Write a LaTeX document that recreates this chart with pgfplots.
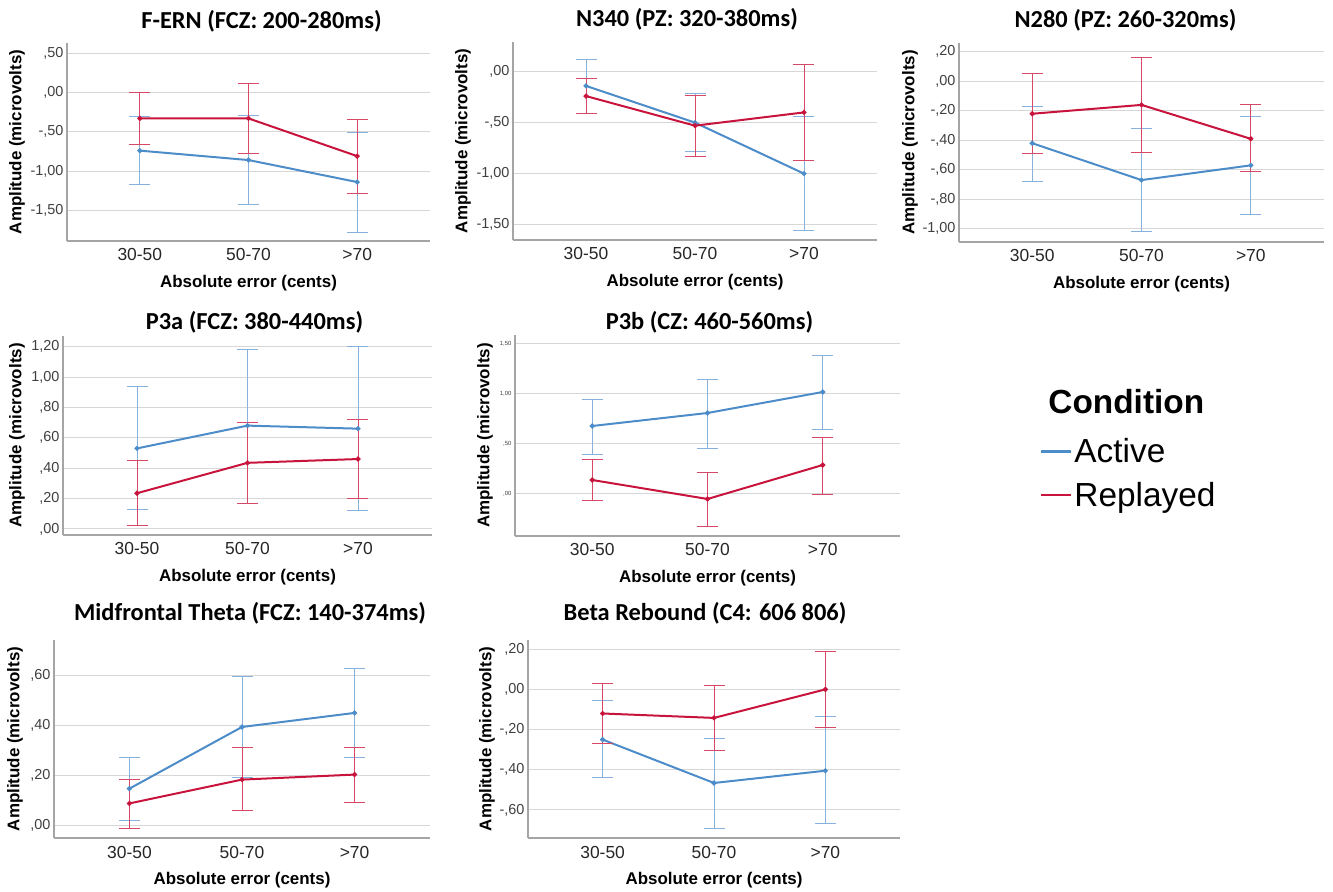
\documentclass[border=0pt]{standalone}
\usepackage{pgfplots}
\pgfplotsset{compat=1.18}
\usepackage{fontspec}
\setmainfont{Liberation Sans}
\newfontfamily\calibri{Carlito}
\definecolor{activeC}{RGB}{76,140,201}
\definecolor{replC}{RGB}{200,20,60}
\definecolor{activeE}{RGB}{135,178,222}
\definecolor{replE}{RGB}{214,72,102}
\definecolor{gridC}{RGB}{215,215,215}
\definecolor{axisC}{RGB}{165,165,165}
\pgfplotsset{
 panel/.style={
  scale only axis,
  enlargelimits=false,
  xmin=-0.67, xmax=2.67,
  xtick={0,1,2}, xticklabels={30-50,50-70,>70},
  axis x line*=bottom, axis y line*=left,
  axis line style={-, draw=axisC, line width=1.1bp},
  major tick length=0pt,
  ymajorgrids, major grid style={draw=gridC, line width=1bp},
  xticklabel style={anchor=center, yshift=-14bp, font=\fontsize{17.5}{19}\selectfont, text=black!85},
  yticklabel style={anchor=east, font=\fontsize{14.5}{16}\selectfont, text=black!75},
  xlabel={Absolute error (cents)},
  ylabel={Amplitude (microvolts)},
  every axis x label/.style={at={([yshift=-42bp]rel axis cs:0.5,0)}, anchor=center, font=\fontsize{17}{19}\selectfont\bfseries},
  clip=false,
 },
 ylabsh/.style={every axis y label/.style={at={([xshift=-#1]rel axis cs:0,0.5)}, rotate=90, anchor=center, font=\fontsize{17}{19}\selectfont\bfseries}},
 titsh/.style 2 args={every axis title/.style={at={([xshift=#1,yshift=#2]rel axis cs:0.5,1)}, anchor=center, font=\calibri\bfseries\fontsize{24.5}{28}\selectfont}},
 act/.style={forget plot, activeC, line width=2bp, mark=*, mark size=1.4bp, mark options={fill=activeC},
   error bars/.cd, y dir=both, y explicit, error mark=|, error bar style={draw=activeE, line width=0.9bp},
   error mark options={draw=activeE, fill=activeE, mark size=10.5bp, line width=0.9bp}},
 rep/.style={forget plot, replC, line width=2bp, mark=*, mark size=1.4bp, mark options={fill=replC},
   error bars/.cd, y dir=both, y explicit, error mark=|, error bar style={draw=replE, line width=0.9bp},
   error mark options={draw=replE, fill=replE, mark size=10.5bp, line width=0.9bp}},
}
\begin{document}
\begin{tikzpicture}
\useasboundingbox (0bp,0bp) rectangle (1333bp,892bp);
% ---------- F-ERN
\begin{axis}[panel, at={(67bp,849bp)}, anchor=north west, width=363bp, height=198bp,
  ymin=-1.89, ymax=0.63, ytick={-1.5,-1,-0.5,0,0.5}, yticklabels={{-1,50},{-1,00},{-,50},{,00},{,50}},
  ylabsh=50bp, titsh={13bp}{22bp}, title={F-ERN (FCZ: 200-280ms)}]
\addplot[act] table[x=x,y=y,y error plus=ep,y error minus=em]{
x y ep em
0 -0.74 0.44 0.43
1 -0.86 0.57 0.57
2 -1.14 0.63 0.64
};
\addplot[rep] table[x=x,y=y,y error plus=ep,y error minus=em]{
x y ep em
0 -0.33 0.33 0.33
1 -0.33 0.44 0.45
2 -0.81 0.47 0.47
};
\end{axis}
% ---------- N340
\begin{axis}[panel, at={(513bp,850bp)}, anchor=north west, width=364bp, height=198bp,
  ymin=-1.65, ymax=0.29, ytick={-1.5,-1,-0.5,0}, yticklabels={{-1,50},{-1,00},{-,50},{,00}},
  ylabsh=50bp, titsh={-8bp}{23bp}, title={N340 (PZ: 320-380ms)}]
\addplot[act] table[x=x,y=y,y error plus=ep,y error minus=em]{
x y ep em
0 -0.14 0.26 0.27
1 -0.50 0.29 0.28
2 -1.00 0.56 0.56
};
\addplot[rep] table[x=x,y=y,y error plus=ep,y error minus=em]{
x y ep em
0 -0.24 0.17 0.17
1 -0.53 0.30 0.30
2 -0.40 0.47 0.47
};
\end{axis}
% ---------- N280
\begin{axis}[panel, at={(959bp,849bp)}, anchor=north west, width=365bp, height=199bp,
  ymin=-1.09, ymax=0.26, ytick={-1,-0.8,-0.6,-0.4,-0.2,0,0.2}, yticklabels={{-1,00},{-,80},{-,60},{-,40},{-,20},{,00},{,20}},
  ylabsh=49bp, titsh={-16bp}{23bp}, title={N280 (PZ: 260-320ms)}]
\addplot[act] table[x=x,y=y,y error plus=ep,y error minus=em]{
x y ep em
0 -0.42 0.25 0.26
1 -0.67 0.35 0.35
2 -0.57 0.33 0.33
};
\addplot[rep] table[x=x,y=y,y error plus=ep,y error minus=em]{
x y ep em
0 -0.22 0.27 0.27
1 -0.16 0.32 0.32
2 -0.39 0.23 0.22
};
\end{axis}
% ---------- P3a
\begin{axis}[panel, at={(63bp,556bp)}, anchor=north west, width=369bp, height=199bp,
  ymin=-0.04, ymax=1.27, ytick={0,0.2,0.4,0.6,0.8,1,1.2}, yticklabels={{,00},{,20},{,40},{,60},{,80},{1,00},{1,20}},
  ylabsh=46bp, titsh={7bp}{14bp}, title={P3a (FCZ: 380-440ms)}]
\addplot[act] table[x=x,y=y,y error plus=ep,y error minus=em]{
x y ep em
0 0.53 0.41 0.405
1 0.68 0.50 0.51
2 0.66 0.54 0.54
};
\addplot[rep] table[x=x,y=y,y error plus=ep,y error minus=em]{
x y ep em
0 0.235 0.215 0.21
1 0.435 0.265 0.265
2 0.46 0.26 0.26
};
\end{axis}
% ---------- P3b
\begin{axis}[panel, at={(515bp,557bp)}, anchor=north west, width=385bp, height=201bp,
  ymin=-0.42, ymax=1.59, ytick={0,0.5,1,1.5}, yticklabels={{,00},{,50},{1,00},{1,50}},
  yticklabel style={font=\fontsize{6}{7}\selectfont},
  ylabsh=30bp, titsh={2bp}{13bp}, title={P3b (CZ: 460-560ms)},
  legend style={at={(rel axis cs:1.356,0.752)}, anchor=north west, draw=none, fill=none,
    font=\fontsize{33.5}{37}\selectfont, row sep=14bp, nodes={inner xsep=2bp, inner ysep=2bp}},
  legend cell align=left,
  legend image code/.code={\draw[#1] (0bp,0bp) -- (30bp,0bp);}]
\addlegendimage{empty legend}\addlegendentry{\hspace{-26bp}\raisebox{6bp}{\textbf{Condition}}}
\addlegendimage{activeC, line width=2.2bp}\addlegendentry{Active}
\addlegendimage{replC, line width=2.2bp}\addlegendentry{Replayed}
\addplot[act] table[x=x,y=y,y error plus=ep,y error minus=em]{
x y ep em
0 0.68 0.27 0.28
1 0.81 0.34 0.35
2 1.02 0.37 0.37
};
\addplot[rep] table[x=x,y=y,y error plus=ep,y error minus=em]{
x y ep em
0 0.14 0.21 0.20
1 -0.05 0.27 0.27
2 0.29 0.28 0.29
};
\end{axis}
% ---------- Midfrontal Theta
\begin{axis}[panel, at={(54bp,252bp)}, anchor=north west, width=376bp, height=198bp,
  ymin=-0.05, ymax=0.74, ytick={0,0.2,0.4,0.6}, yticklabels={{,00},{,20},{,40},{,60}},
  ylabsh=39bp, titsh={8bp}{27bp}, title={Midfrontal Theta (FCZ: 140-374ms)}]
\addplot[act] table[x=x,y=y,y error plus=ep,y error minus=em]{
x y ep em
0 0.147 0.126 0.126
1 0.393 0.201 0.203
2 0.449 0.177 0.179
};
\addplot[rep] table[x=x,y=y,y error plus=ep,y error minus=em]{
x y ep em
0 0.088 0.096 0.099
1 0.183 0.127 0.125
2 0.203 0.107 0.111
};
\end{axis}
% ---------- Beta Rebound
\begin{axis}[panel, at={(528bp,252bp)}, anchor=north west, width=372bp, height=198bp,
  ymin=-0.74, ymax=0.246, ytick={-0.6,-0.4,-0.2,0,0.2}, yticklabels={{-,60},{-,40},{-,20},{,00},{,20}},
  ylabsh=41bp, titsh={-9bp}{27bp}, title={Beta Rebound (C4: 606 806)}]
\addplot[act] table[x=x,y=y,y error plus=ep,y error minus=em]{
x y ep em
0 -0.25 0.194 0.19
1 -0.466 0.221 0.224
2 -0.405 0.268 0.265
};
\addplot[rep] table[x=x,y=y,y error plus=ep,y error minus=em]{
x y ep em
0 -0.12 0.151 0.15
1 -0.142 0.16 0.164
2 0.00 0.188 0.19
};
\end{axis}
\end{tikzpicture}
\end{document}
